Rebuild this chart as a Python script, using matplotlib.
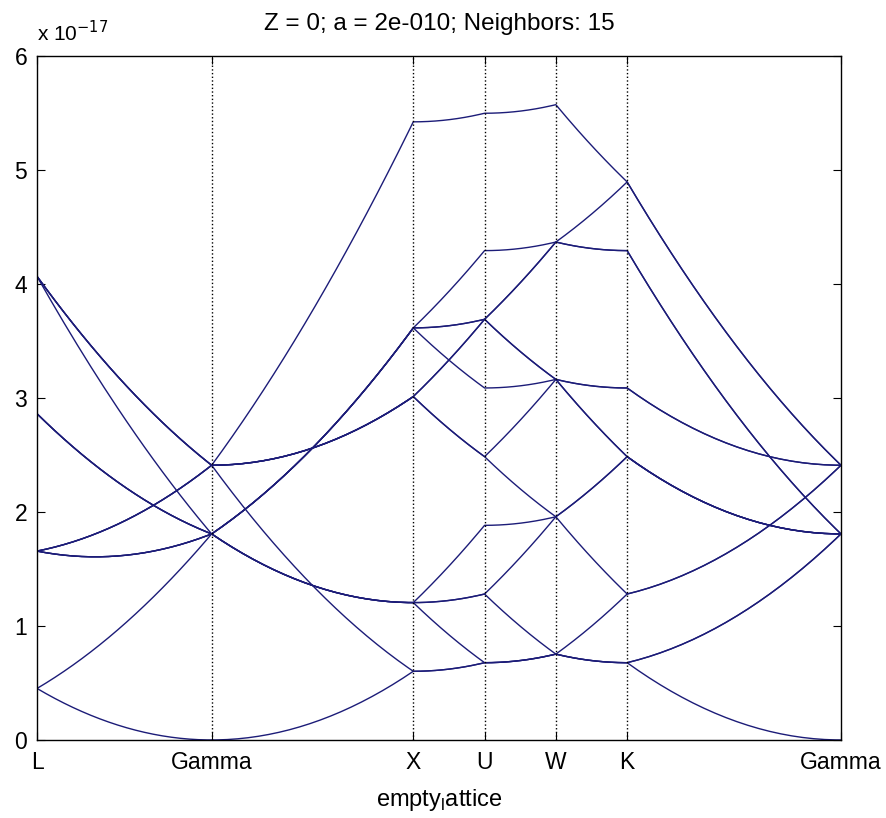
import numpy as np
import matplotlib
matplotlib.use("Agg")
import matplotlib.pyplot as plt

plt.rcParams['font.family'] = ['Liberation Sans', 'DejaVu Sans']

# parameters from the title
Z = 0
a = 2e-10
neighbors = 15

# high-symmetry path (units of 2*pi/a)
path_labels = ['L', 'Gamma', 'X', 'U', 'W', 'K', 'Gamma']
path_points = [
    [0.5, 0.5, 0.5],
    [0.0, 0.0, 0.0],
    [1.0, 0.0, 0.0],
    [1.0, 0.25, 0.25],
    [1.0, 0.5, 0.0],
    [0.75, 0.75, 0.0],
    [0.0, 0.0, 0.0],
]

# 15 shortest reciprocal lattice vectors of fcc (units of 2*pi/a)
g_vectors = [
    [0, 0, 0],
    [1, 1, 1], [1, 1, -1], [1, -1, 1], [-1, 1, 1],
    [-1, -1, 1], [-1, 1, -1], [1, -1, -1], [-1, -1, -1],
    [2, 0, 0], [-2, 0, 0], [0, 2, 0], [0, -2, 0], [0, 0, 2], [0, 0, -2],
]

hbar = 1.0546e-34
m_e = 9.109e-31
n_seg = 40

pts = np.array(path_points, dtype=float)
G = np.array(g_vectors[:neighbors], dtype=float)

kpath = []
xpath = []
xticks = [0.0]
x0 = 0.0
for i in range(len(pts) - 1):
    t = np.linspace(0, 1, n_seg)
    seg = pts[i] + t[:, None] * (pts[i + 1] - pts[i])
    L = np.linalg.norm(pts[i + 1] - pts[i])
    if i > 0:
        seg = seg[1:]
        t = t[1:]
    kpath.append(seg)
    xpath.append(x0 + t * L)
    x0 += L
    xticks.append(x0)
kpath = np.vstack(kpath)
xpath = np.concatenate(xpath)

scale = (2 * np.pi / a) ** 2 * hbar ** 2 / (2 * m_e)
E = np.array([scale * np.sum((kpath + g) ** 2, axis=1) for g in G])

fig = plt.figure(figsize=(8.86, 8.18), dpi=100)
ax = fig.add_axes([0.0418, 0.0954, 0.9074, 0.8361])

for band in E:
    ax.plot(xpath, band / 1e-17, color='#1c1c78', lw=1.0)

for xt in xticks[1:-1]:
    ax.plot([xt, xt], [0, 6], color='k', ls=':', lw=1.0)

ax.set_xlim(xticks[0], xticks[-1])
ax.set_ylim(0, 6)
ax.set_xticks(xticks)
ax.set_xticklabels(path_labels)
ax.set_yticks(range(7))
ax.tick_params(direction='in', length=6, width=0.8, labelsize=16.5,
               top=True, right=True)
ax.tick_params(axis='x', pad=8)
ax.tick_params(axis='y', pad=7)
for s in ax.spines.values():
    s.set_linewidth(1.0)

ax.text(0.0, 1.016, r'x 10$^{-17}$', transform=ax.transAxes,
        fontsize=15, ha='left', va='bottom')
ax.set_title('Z = %d; a = 2e-010; Neighbors: %d' % (Z, neighbors),
             fontsize=17.5, pad=19)
ax.set_xlabel(r'empty$_{\mathregular{l}}$attice', fontsize=17, labelpad=9)

fig.savefig('out.png', dpi=100)
